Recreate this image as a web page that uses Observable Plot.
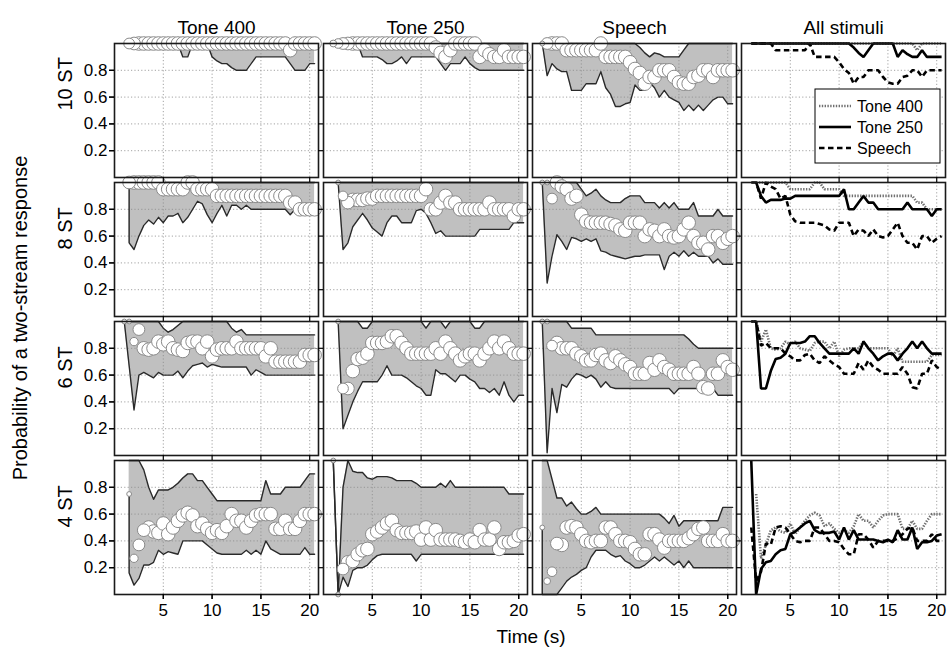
<!DOCTYPE html>
<html><head><meta charset="utf-8">
<script src="https://cdn.jsdelivr.net/npm/d3@7"></script>
<script src="https://cdn.jsdelivr.net/npm/@observablehq/plot@0.6"></script>
<style>body{margin:0;background:#fff} #chart svg{display:block}</style>
</head><body><div id="chart"></div>
<script>
// time points (s)
const times = [1, 1.5, 2, 2.5, 3, 3.5, 4, 4.5, 5, 5.5, 6, 6.5, 7, 7.5, 8, 8.5, 9, 9.5, 10, 10.5,
  11, 11.5, 12, 12.5, 13, 13.5, 14, 14.5, 15, 15.5, 16, 16.5, 17, 17.5, 18, 18.5, 19, 19.5, 20, 20.5];
const columns = ["Tone 400", "Tone 250", "Speech", "All stimuli"];
const stimuli = ["Tone 400", "Tone 250", "Speech"];
const separations = ["10 ST", "8 ST", "6 ST", "4 ST"];
const xTicks = [5, 10, 15, 20];
const yTicks = [0.2, 0.4, 0.6, 0.8];
const fullCount = 8;

// ---- Tone 400 ----
const med_T400_10 = [null,1,1,1,1,1,1,1,1,1,1,1,1,1,1,1,1,1,1,1,1,1,1,1,1,1,1,1,1,1,1,1,1,1,0.95,1,1,1,1,1];
const lo_T400_10  = [null,1,1,1,1,1,1,1,1,1,1,1,0.9,0.9,1,1,1,1,0.9,0.87,0.85,0.85,0.82,0.8,0.8,0.8,0.85,0.9,0.9,0.9,0.9,0.9,0.9,0.9,0.85,0.8,0.8,0.8,0.85,0.85];
const hi_T400_10  = [null,1,1,1,1,1,1,1,1,1,1,1,1,1,1,1,1,1,1,1,1,1,1,1,1,1,1,1,1,1,1,1,1,1,1,1,1,1,1,1];
const n_T400_10   = [null,5,7];

const med_T400_8 = [null,1,1,1,1,1,1,1,0.95,0.95,0.95,0.95,0.95,1,1,0.95,0.95,0.95,0.95,0.9,0.9,0.9,0.9,0.9,0.9,0.9,0.9,0.9,0.9,0.9,0.9,0.9,0.9,0.9,0.85,0.85,0.8,0.8,0.8,0.8];
const lo_T400_8  = [null,0.55,0.5,0.6,0.68,0.72,0.69,0.74,0.7,0.75,0.75,0.77,0.7,0.74,0.8,0.86,0.84,0.76,0.7,0.77,0.83,0.75,0.83,0.83,0.8,0.83,0.8,0.8,0.8,0.8,0.8,0.8,0.8,0.8,0.76,0.8,0.8,0.8,0.8,0.8];
const hi_T400_8  = [null,1,1,1,1,1,1,1,1,1,1,1,1,1,1,1,1,1,1,1,1,1,1,1,1,1,1,1,1,1,1,1,1,1,1,1,1,1,1,1];
const n_T400_8   = [null,7];

const med_T400_6 = [1,1,0.85,0.94,0.8,0.79,0.8,0.85,0.83,0.85,0.8,0.79,0.78,0.84,0.85,0.85,0.8,0.85,0.74,0.79,0.8,0.8,0.8,0.85,0.8,0.8,0.8,0.8,0.8,0.74,0.8,0.7,0.7,0.7,0.7,0.7,0.7,0.75,0.75,0.75];
const lo_T400_6  = [1,0.67,0.34,0.6,0.62,0.6,0.58,0.62,0.6,0.6,0.6,0.63,0.58,0.63,0.67,0.68,0.69,0.66,0.68,0.67,0.66,0.66,0.66,0.66,0.66,0.66,0.6,0.64,0.62,0.6,0.6,0.6,0.6,0.6,0.6,0.6,0.6,0.6,0.6,0.6];
const hi_T400_6  = [1,1,1,1,1,1,1,1,0.95,0.92,0.94,0.97,1,1,1,1,1,1,1,1,1,1,0.95,0.92,0.94,0.9,0.9,0.9,0.9,0.9,0.9,0.9,0.9,0.9,0.9,0.9,0.9,0.9,0.9,0.9];
const n_T400_6   = [1,1,3,6];

const med_T400_4 = [null,0.75,0.27,0.37,0.48,0.5,0.47,0.46,0.53,0.45,0.5,0.55,0.59,0.61,0.59,0.51,0.53,0.49,0.46,0.48,0.46,0.51,0.6,0.55,0.55,0.5,0.55,0.59,0.6,0.6,0.6,0.49,0.49,0.55,0.49,0.49,0.55,0.6,0.6,0.6];
const lo_T400_4  = [null,0.16,0.07,0.12,0.22,0.22,0.24,0.33,0.3,0.32,0.31,0.3,0.4,0.4,0.4,0.4,0.4,0.37,0.34,0.31,0.3,0.3,0.3,0.3,0.3,0.33,0.3,0.33,0.3,0.4,0.34,0.32,0.3,0.3,0.3,0.3,0.3,0.35,0.3,0.3];
const hi_T400_4  = [null,1,1,1,0.93,0.8,0.71,0.78,0.78,0.78,0.8,0.83,0.87,0.9,0.9,0.85,0.85,0.8,0.75,0.7,0.7,0.7,0.7,0.7,0.7,0.7,0.7,0.7,0.7,0.85,0.75,0.75,0.75,0.8,0.8,0.8,0.8,0.85,0.9,0.9];
const n_T400_4   = [null,1,3,6,7];

// ---- Tone 250 ----
const med_T250_10 = [1,1,1,1,1,1,1,1,1,1,1,1,1,1,1,1,1,1,1,1,1,0.97,0.93,0.9,0.95,1,1,1,1,1,0.9,0.95,0.92,0.9,0.9,0.95,0.9,0.9,0.9,0.9];
const lo_T250_10  = [1,1,1,1,1,1,0.9,0.9,0.9,0.9,0.88,0.85,0.85,0.87,0.9,0.85,0.9,0.9,0.9,0.9,0.9,0.9,0.85,0.8,0.85,0.85,0.85,0.9,0.85,0.82,0.8,0.8,0.8,0.8,0.8,0.8,0.8,0.8,0.8,0.8];
const hi_T250_10  = [1,1,1,1,1,1,1,1,1,1,1,1,1,1,1,1,1,1,1,1,1,1,1,1,1,1,1,1,1,1,1,1,1,1,1,1,1,1,1,1];
const n_T250_10   = [2,4,6,7];

const med_T250_8 = [null,1,0.9,0.85,0.87,0.87,0.87,0.88,0.88,0.9,0.9,0.9,0.9,0.9,0.9,0.9,0.9,0.9,0.9,0.95,0.8,0.8,0.85,0.9,0.85,0.85,0.8,0.8,0.8,0.8,0.8,0.8,0.85,0.8,0.8,0.8,0.8,0.75,0.8,0.8];
const lo_T250_8  = [null,1,0.5,0.55,0.67,0.72,0.77,0.72,0.66,0.63,0.6,0.7,0.75,0.75,0.7,0.7,0.7,0.79,0.8,0.77,0.7,0.62,0.64,0.6,0.6,0.6,0.6,0.6,0.6,0.6,0.65,0.65,0.65,0.65,0.65,0.65,0.65,0.7,0.7,0.7];
const hi_T250_8  = [null,1,1,1,1,1,1,1,1,1,1,1,1,1,1,1,1,1,1,1,1,1,1,1,1,1,1,1,1,1,1,1,1,1,1,1,1,1,1,1];
const n_T250_8   = [null,1,4,7];

const med_T250_6 = [null,1,0.5,0.5,0.63,0.72,0.73,0.76,0.84,0.84,0.84,0.85,0.89,0.89,0.84,0.8,0.76,0.76,0.76,0.76,0.76,0.8,0.76,0.85,0.8,0.76,0.71,0.74,0.76,0.76,0.71,0.76,0.8,0.85,0.8,0.85,0.8,0.76,0.76,0.76];
const lo_T250_6  = [null,1,0.2,0.3,0.4,0.48,0.55,0.55,0.55,0.55,0.6,0.67,0.6,0.6,0.6,0.58,0.55,0.52,0.5,0.45,0.45,0.64,0.61,0.61,0.58,0.55,0.6,0.6,0.57,0.55,0.5,0.5,0.47,0.5,0.45,0.55,0.45,0.4,0.45,0.45];
const hi_T250_6  = [null,1,1,1,1,1,0.95,0.95,1,1,1,1,1,1,1,1,1,1,1,0.95,1,1,1,0.95,1,1,1,1,1,0.95,0.95,1,1,1,1,1,1,1,1,1];
const n_T250_6   = [null,1,5,7];

const med_T250_4 = [1,0,0.19,0.24,0.25,0.3,0.33,0.34,0.45,0.47,0.5,0.53,0.55,0.48,0.46,0.46,0.46,0.47,0.41,0.5,0.41,0.48,0.41,0.41,0.41,0.41,0.4,0.39,0.41,0.39,0.48,0.41,0.41,0.5,0.34,0.39,0.39,0.4,0.44,0.45];
const lo_T250_4  = [1,0,0.13,0.06,0.18,0.2,0.2,0.22,0.26,0.29,0.3,0.3,0.3,0.3,0.3,0.3,0.3,0.25,0.3,0.3,0.3,0.3,0.3,0.3,0.3,0.3,0.3,0.3,0.3,0.3,0.3,0.3,0.3,0.3,0.3,0.3,0.3,0.3,0.3,0.3];
const hi_T250_4  = [1,0,0.8,1,0.92,0.91,0.91,0.87,0.86,0.88,0.88,0.88,0.87,0.85,0.85,0.85,0.85,0.83,0.8,0.8,0.8,0.8,0.83,0.8,0.85,0.8,0.8,0.8,0.8,0.8,0.8,0.8,0.8,0.8,0.8,0.8,0.75,0.75,0.75,0.75];
const n_T250_4   = [1,1,6];

// ---- Speech ----
const med_SP_10 = [1,1,1,1,1,0.95,0.95,0.95,0.95,0.95,0.95,0.95,1,0.9,0.9,0.9,0.9,0.9,0.86,0.81,0.78,0.7,0.75,0.75,0.8,0.8,0.8,0.75,0.71,0.7,0.7,0.75,0.76,0.8,0.8,0.75,0.8,0.8,0.8,0.8];
const lo_SP_10  = [1,0.76,0.85,0.81,0.79,0.79,0.65,0.65,0.65,0.7,0.7,0.7,0.79,0.67,0.62,0.53,0.53,0.55,0.56,0.69,0.65,0.65,0.71,0.67,0.6,0.65,0.6,0.58,0.56,0.5,0.54,0.5,0.54,0.5,0.54,0.58,0.6,0.6,0.55,0.55];
const hi_SP_10  = [1,1,1,1,1,1,1,1,1,1,1,1,1,1,1,1,1,1,1,1,0.97,0.93,0.9,0.93,0.92,0.9,0.9,0.9,0.9,0.95,1,1,1,1,1,1,1,1,1,1];
const n_SP_10   = [1,6];

const med_SP_8 = [1,1,0.88,1,0.97,0.95,0.88,0.9,0.76,0.71,0.7,0.7,0.7,0.7,0.69,0.68,0.65,0.64,0.7,0.7,0.7,0.6,0.65,0.64,0.6,0.65,0.6,0.59,0.6,0.65,0.7,0.6,0.55,0.55,0.5,0.6,0.6,0.55,0.58,0.6];
const lo_SP_8  = [1,0.25,0.45,0.61,0.56,0.5,0.59,0.58,0.56,0.58,0.56,0.58,0.49,0.48,0.46,0.45,0.44,0.43,0.44,0.45,0.45,0.46,0.46,0.46,0.46,0.35,0.45,0.48,0.45,0.49,0.45,0.48,0.45,0.45,0.45,0.4,0.43,0.39,0.39,0.39];
const hi_SP_8  = [1,1,1,1,1,1,1,1,0.95,0.9,0.92,0.95,0.9,0.87,0.85,0.85,0.85,0.88,0.9,0.9,0.9,0.85,0.85,0.85,0.81,0.85,0.81,0.85,0.8,0.8,0.8,0.85,0.75,0.75,0.75,0.75,0.8,0.75,0.75,0.75];
const n_SP_8   = [1,1,5];

const med_SP_6 = [1,1,0.82,0.84,0.8,0.8,0.8,0.76,0.74,0.71,0.71,0.75,0.76,0.71,0.69,0.74,0.71,0.68,0.66,0.61,0.61,0.61,0.69,0.64,0.71,0.66,0.64,0.61,0.61,0.61,0.61,0.66,0.61,0.51,0.5,0.61,0.61,0.71,0.66,0.64];
const lo_SP_6  = [1,0.02,0.5,0.32,0.53,0.51,0.57,0.61,0.6,0.58,0.6,0.57,0.51,0.55,0.51,0.5,0.5,0.5,0.5,0.5,0.5,0.5,0.5,0.5,0.5,0.5,0.5,0.46,0.5,0.5,0.5,0.5,0.5,0.5,0.5,0.5,0.45,0.45,0.45,0.45];
const hi_SP_6  = [1,1,1,1,1,1,0.95,0.95,0.95,0.95,0.95,0.9,0.9,0.9,0.9,0.9,0.9,0.9,0.9,0.9,0.9,0.9,0.9,0.9,0.9,0.9,0.9,0.9,0.9,0.9,0.87,0.83,0.8,0.8,0.8,0.8,0.8,0.8,0.8,0.8];
const n_SP_6   = [1,1,5];

const med_SP_4 = [0.5,0.1,0.17,0.38,0.37,0.5,0.51,0.5,0.45,0.4,0.39,0.4,0.4,0.5,0.5,0.45,0.4,0.4,0.39,0.34,0.3,0.3,0.45,0.45,0.41,0.35,0.4,0.4,0.4,0.4,0.42,0.45,0.49,0.5,0.4,0.4,0.4,0.45,0.4,0.4];
const lo_SP_4  = [0,0,0,0,0.05,0.1,0.13,0.15,0.18,0.2,0.28,0.33,0.33,0.33,0.3,0.28,0.29,0.25,0.23,0.2,0.2,0.22,0.25,0.28,0.25,0.28,0.25,0.22,0.25,0.2,0.25,0.2,0.2,0.2,0.2,0.2,0.2,0.2,0.2,0.2];
const hi_SP_4  = [1,1,0.86,0.72,0.72,0.66,0.69,0.64,0.6,0.6,0.62,0.65,0.6,0.6,0.6,0.6,0.6,0.6,0.6,0.6,0.6,0.6,0.6,0.6,0.6,0.57,0.53,0.59,0.51,0.55,0.55,0.55,0.55,0.55,0.55,0.55,0.55,0.65,0.65,0.65];
const n_SP_4   = [1,2,4,7];

const panels = {
  "Tone 400": {"10 ST": [med_T400_10, lo_T400_10, hi_T400_10, n_T400_10], "8 ST": [med_T400_8, lo_T400_8, hi_T400_8, n_T400_8],
               "6 ST": [med_T400_6, lo_T400_6, hi_T400_6, n_T400_6], "4 ST": [med_T400_4, lo_T400_4, hi_T400_4, n_T400_4]},
  "Tone 250": {"10 ST": [med_T250_10, lo_T250_10, hi_T250_10, n_T250_10], "8 ST": [med_T250_8, lo_T250_8, hi_T250_8, n_T250_8],
               "6 ST": [med_T250_6, lo_T250_6, hi_T250_6, n_T250_6], "4 ST": [med_T250_4, lo_T250_4, hi_T250_4, n_T250_4]},
  "Speech":   {"10 ST": [med_SP_10, lo_SP_10, hi_SP_10, n_SP_10], "8 ST": [med_SP_8, lo_SP_8, hi_SP_8, n_SP_8],
               "6 ST": [med_SP_6, lo_SP_6, hi_SP_6, n_SP_6], "4 ST": [med_SP_4, lo_SP_4, hi_SP_4, n_SP_4]}
};

// build tables
const rows = [], lowerPath = [], allRows = [];
for (const stim of stimuli) for (const sep of separations) {
  const [med, lo, hi, nEarly] = panels[stim][sep];
  let first = true;
  times.forEach((t, i) => {
    if (med[i] == null) return;
    const n = i < nEarly.length && nEarly[i] != null ? nEarly[i] : fullCount;
    rows.push({col: stim, row: sep, t, med: med[i], lo: lo[i], hi: hi[i], n});
    if (first) { lowerPath.push({col: stim, row: sep, t, v: med[i]}); first = false; }
    lowerPath.push({col: stim, row: sep, t, v: lo[i]});
    allRows.push({col: "All stimuli", row: sep, stim, t, med: med[i]});
  });
}

const lineStyles = {
  "Tone 400": {stroke: "#707070", strokeDasharray: "1.4,1.4"},
  "Tone 250": {stroke: "#000", strokeDasharray: null},
  "Speech":   {stroke: "#000", strokeDasharray: "5.5,3.5"}
};

const font = "'Liberation Sans', Arial, sans-serif";

const plot = Plot.plot({
  width: 949, height: 658,
  marginLeft: 112, marginRight: 2, marginTop: 41, marginBottom: 62,
  x: {domain: [0, 20.9]},
  y: {domain: [0, 1]},
  r: {type: "sqrt", domain: [0, fullCount], range: [0, 6.8]},
  fx: {domain: columns, paddingInner: 0.0238, paddingOuter: 0, axis: null},
  fy: {domain: separations, paddingInner: 0.0357, paddingOuter: 0, axis: null},
  style: {fontFamily: font, fontSize: "17px", color: "#000", background: "#fff", overflow: "visible"},
  marks: [
    Plot.areaY(rows, {x: "t", y1: "lo", y2: "hi", fx: "col", fy: "row", fill: "#c0c0c0", curve: "linear"}),
    Plot.gridX({ticks: xTicks, stroke: "#8c8c8c", strokeOpacity: 1, strokeDasharray: "1.2,2.2", strokeWidth: 0.8}),
    Plot.gridY({ticks: yTicks, stroke: "#8c8c8c", strokeOpacity: 1, strokeDasharray: "1.2,2.2", strokeWidth: 0.8}),
    Plot.lineY(lowerPath, {x: "t", y: "v", fx: "col", fy: "row", stroke: "#2a2a2a", strokeWidth: 1.4}),
    Plot.lineY(rows, {x: "t", y: "hi", fx: "col", fy: "row", stroke: "#2a2a2a", strokeWidth: 1.4}),
    Plot.dot(rows, {x: "t", y: "med", r: "n", fx: "col", fy: "row", fill: "#fff", stroke: "#8a8a8a", strokeWidth: 1}),
    ...stimuli.map(s => Plot.lineY(allRows.filter(d => d.stim === s), {
      x: "t", y: "med", fx: "col", fy: "row", strokeWidth: 2.6, strokeLinecap: "butt", strokeLinejoin: "miter", ...lineStyles[s]})),
    Plot.frame({stroke: "#1a1a1a", strokeWidth: 1.6}),
    Plot.axisX({ticks: xTicks, tickSize: 5, tickFormat: () => "", label: null, facetAnchor: null, strokeWidth: 1.2}),
    Plot.axisY({ticks: yTicks, tickSize: 5, tickFormat: () => "", label: null, facetAnchor: null, strokeWidth: 1.2}),
    Plot.axisX({ticks: xTicks, tickSize: 5, tickPadding: 4, label: null, facetAnchor: "bottom", fontSize: 17, strokeWidth: 1.2}),
    Plot.axisY({ticks: yTicks, tickSize: 5, tickPadding: 2, label: null, facetAnchor: "left", fontSize: 17, tickFormat: d3.format(".1f"), strokeWidth: 1.2}),
    Plot.text(separations, {text: d => d, fy: d => d, fx: () => "Tone 400", frameAnchor: "left", dx: -49, rotate: -90, fontSize: 20}),
    Plot.text(columns, {text: d => d, fx: d => d, fy: () => "10 ST", frameAnchor: "top", dy: -23, fontSize: 19})
  ]
});

const svg = d3.select(plot);
svg.append("text")
  .attr("transform", "translate(20,318) rotate(-90)")
  .attr("text-anchor", "middle").attr("dy", "0.35em")
  .style("font-size", "20px").style("font-family", font)
  .text("Probability of a two-stream response");
svg.append("text")
  .attr("x", 531).attr("y", 636)
  .attr("text-anchor", "middle").attr("dy", "0.35em")
  .style("font-size", "19px").style("font-family", font)
  .text("Time (s)");

// legend inside the "All stimuli / 10 ST" panel
const lg = svg.append("g").attr("transform", "translate(815,89)");
lg.append("rect").attr("width", 125).attr("height", 74).attr("fill", "#fff").attr("stroke", "#000").attr("stroke-width", 1);
stimuli.forEach((s, i) => {
  const y = 17 + i * 21;
  lg.append("line").attr("x1", 4).attr("x2", 36).attr("y1", y).attr("y2", y)
    .attr("stroke", lineStyles[s].stroke).attr("stroke-width", 2.6)
    .attr("stroke-dasharray", lineStyles[s].strokeDasharray);
  lg.append("text").attr("x", 42).attr("y", y).attr("dy", "0.35em").attr("text-anchor", "start")
    .style("font-size", "16px").style("font-family", font).text(s);
});

document.getElementById("chart").appendChild(plot);
</script>
</body></html>
